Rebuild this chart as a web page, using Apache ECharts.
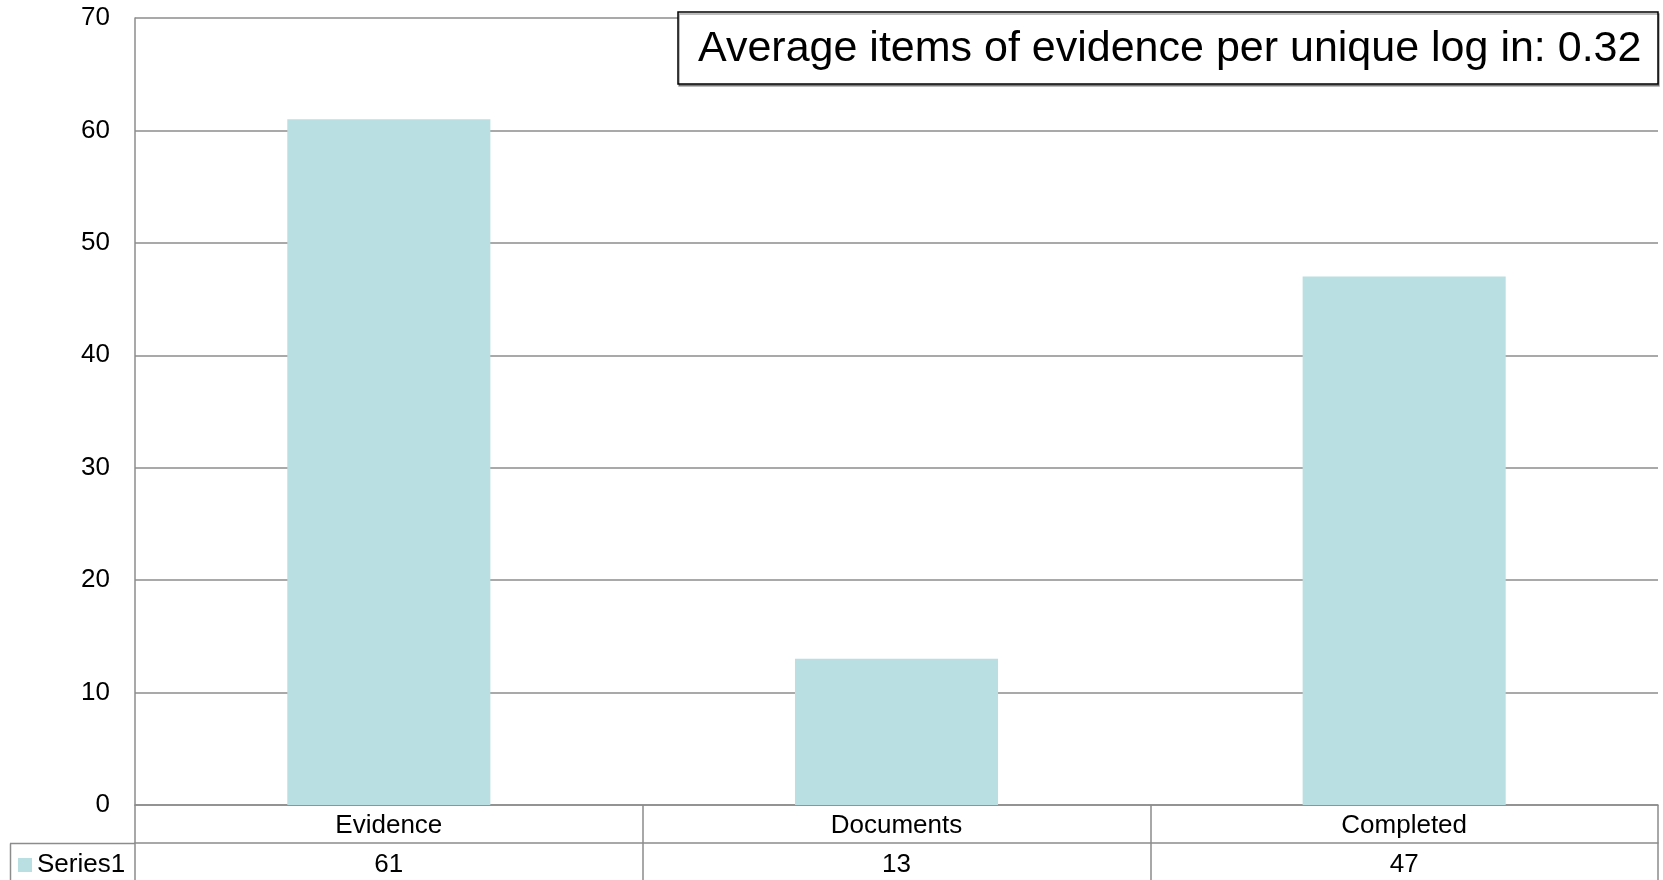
<!DOCTYPE html>
<html>
<head>
<meta charset="utf-8">
<script src="https://cdn.jsdelivr.net/npm/echarts@6/dist/echarts.min.js"></script>
<style>
html,body{margin:0;padding:0;background:#fff;}
#c{width:1663px;height:880px;}
</style>
</head>
<body>
<div id="c"></div>
<script>
const categories = ['Evidence', 'Documents', 'Completed'];
const series1 = [61, 13, 47];
const seriesName = 'Series1';
const yTicks = [0, 10, 20, 30, 40, 50, 60, 70];
const note = 'Average items of evidence per unique log in: 0.32';

const FONT = "'Liberation Sans', Arial, sans-serif";
const GRID = '#8c8c8c';
const BAR = '#badfe2';

const chart = echarts.init(document.getElementById('c'), null, {renderer: 'canvas'});
chart.setOption({
  animation: false,
  backgroundColor: '#fff',
  textStyle: {fontFamily: FONT, color: '#000'},
  title: {
    text: note,
    left: 678,
    top: 12,
    padding: [14, 17, 12, 20],
    borderColor: '#000',
    borderWidth: 1.5,
    backgroundColor: '#fff',
    shadowColor: 'rgba(0,0,0,0.35)',
    shadowOffsetX: 1,
    shadowOffsetY: 2,
    textStyle: {fontFamily: FONT, fontSize: 43, fontWeight: 'normal', color: '#000', lineHeight: 46}
  },
  legend: {
    data: [seriesName],
    left: 18,
    top: 852,
    padding: 0,
    icon: 'rect',
    itemWidth: 14,
    itemHeight: 14,
    textStyle: {fontFamily: FONT, fontSize: 26, color: '#000'}
  },
  grid: {left: 135, right: 5, top: 18, bottom: 75, containLabel: false},
  xAxis: [
    {
      type: 'category',
      data: categories,
      position: 'bottom',
      axisLine: {show: true, lineStyle: {color: GRID, width: 1.5}},
      axisTick: {show: true, interval: 0, inside: false, length: 75, lineStyle: {color: GRID, width: 1.5}},
      axisLabel: {interval: 0, margin: 8, fontSize: 26, color: '#000', fontFamily: FONT},
      splitLine: {show: false}
    },
    {
      type: 'category',
      data: series1.map(String),
      position: 'bottom',
      offset: 38,
      axisLine: {show: true, lineStyle: {color: GRID, width: 1.5}},
      axisTick: {show: false},
      axisLabel: {interval: 0, margin: 9, fontSize: 26, color: '#000', fontFamily: FONT},
      splitLine: {show: false}
    }
  ],
  yAxis: {
    type: 'value',
    min: yTicks[0],
    max: yTicks[yTicks.length - 1],
    interval: yTicks[1] - yTicks[0],
    axisLine: {show: true, lineStyle: {color: GRID, width: 1.5}},
    axisTick: {show: false},
    axisLabel: {margin: 25, fontSize: 26, color: '#000', fontFamily: FONT, padding: [7, 0, 0, 0]},
    splitLine: {show: true, lineStyle: {color: GRID, width: 1.5}}
  },
  series: [{
    name: seriesName,
    type: 'bar',
    xAxisIndex: 0,
    data: series1,
    barCategoryGap: '60%',
    itemStyle: {color: BAR}
  }],
  graphic: [
    {type: 'line', shape: {x1: 10, y1: 843.5, x2: 135, y2: 843.5}, style: {stroke: GRID, lineWidth: 1.5}, silent: true},
    {type: 'line', shape: {x1: 10.5, y1: 843.5, x2: 10.5, y2: 880}, style: {stroke: GRID, lineWidth: 1.5}, silent: true}
  ]
});
</script>
</body>
</html>
